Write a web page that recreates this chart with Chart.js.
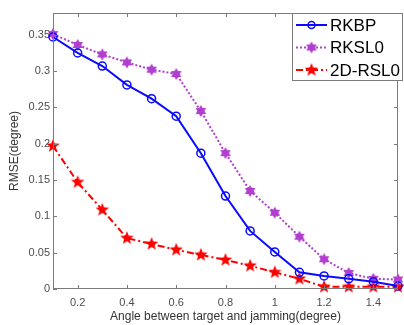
<!DOCTYPE html>
<html>
<head>
<meta charset="utf-8">
<script src="https://cdn.jsdelivr.net/npm/chart.js@4.4.1/dist/chart.umd.min.js"></script>
<style>
  body { margin: 0; background: #fff; }
  #wrap { width: 404px; height: 325px; }
</style>
</head>
<body>
<div id="wrap"><canvas id="rmseChart" width="404" height="325"></canvas></div>
<script>
// angle between target and jamming (degree)
const angles = [0.1, 0.2, 0.3, 0.4, 0.5, 0.6, 0.7, 0.8, 0.9, 1.0, 1.1, 1.2, 1.3, 1.4, 1.5];
// RMSE (degree) for each method
const rkbp  = [0.347, 0.325, 0.307, 0.281, 0.262, 0.238, 0.187, 0.128, 0.080, 0.051, 0.023, 0.018, 0.014, 0.010, 0.004];
const rksl0 = [0.351, 0.336, 0.323, 0.312, 0.302, 0.296, 0.245, 0.187, 0.135, 0.105, 0.072, 0.041, 0.022, 0.014, 0.013];
const rsl0  = [0.197, 0.147, 0.109, 0.070, 0.062, 0.054, 0.047, 0.040, 0.032, 0.023, 0.014, 0.003, 0.003, 0.003, 0.003];
const seriesNames = ['RKBP', 'RKSL0', '2D-RSL0'];
const xTicks = [0.2, 0.4, 0.6, 0.8, 1, 1.2, 1.4];
const yTicks = [0, 0.05, 0.1, 0.15, 0.2, 0.25, 0.3, 0.35];

// filled star marker drawn on a small canvas
function starMarker(nPoints, outerR, innerR, color) {
    const size = Math.ceil(outerR * 2 + 2);
    const c = document.createElement('canvas');
    c.width = size; c.height = size;
    const g = c.getContext('2d');
    g.translate(size / 2, size / 2);
    g.beginPath();
    for (let i = 0; i < nPoints * 2; i++) {
        const r = i % 2 === 0 ? outerR : innerR;
        const a = -Math.PI / 2 + i * Math.PI / nPoints;
        const px = r * Math.cos(a), py = r * Math.sin(a);
        if (i === 0) g.moveTo(px, py); else g.lineTo(px, py);
    }
    g.closePath();
    g.fillStyle = color;
    g.fill();
    return c;
}

const hexStar = starMarker(6, 6, 3.6, '#b03fd0');
const pentStar = starMarker(5, 7, 3, '#ff0000');

const toPoints = arr => arr.map((v, i) => ({ x: angles[i], y: v }));

// box around the plot with inward ticks, like matlab
const framePlugin = {
    id: 'frame',
    afterDraw(chart) {
        const { ctx, chartArea: a, scales } = chart;
        ctx.save();
        ctx.strokeStyle = '#7a7a7a';
        ctx.lineWidth = 1;
        ctx.strokeRect(a.left + 0.5, a.top + 0.5, a.right - a.left - 1, a.bottom - a.top - 1);
        ctx.beginPath();
        xTicks.forEach(v => {
            const x = Math.round(scales.x.getPixelForValue(v)) + 0.5;
            ctx.moveTo(x, a.bottom); ctx.lineTo(x, a.bottom - 4);
            ctx.moveTo(x, a.top); ctx.lineTo(x, a.top + 4);
        });
        yTicks.forEach(v => {
            const y = Math.round(scales.y.getPixelForValue(v)) + 0.5;
            ctx.moveTo(a.left, y); ctx.lineTo(a.left + 4, y);
            ctx.moveTo(a.right, y); ctx.lineTo(a.right - 4, y);
        });
        ctx.stroke();

        // legend box, top right
        const lx = 292, ly = 13, lw = 111, lh = 68;
        ctx.fillStyle = '#fff';
        ctx.fillRect(lx, ly, lw, lh);
        ctx.strokeRect(lx + 0.5, ly + 0.5, lw - 1, lh - 1);
        ctx.font = '17px "Liberation Sans", Arial, sans-serif';
        ctx.textBaseline = 'middle';
        chart.data.datasets.forEach((ds, i) => {
            const y = ly + 12 + i * 22.5;
            ctx.strokeStyle = ds.borderColor;
            ctx.lineWidth = ds.borderWidth;
            ctx.setLineDash(ds.borderDash || []);
            ctx.beginPath();
            ctx.moveTo(296, y); ctx.lineTo(327, y);
            ctx.stroke();
            ctx.setLineDash([]);
            if (ds.pointStyle === 'circle') {
                ctx.lineWidth = 1.5;
                ctx.beginPath();
                ctx.arc(311.5, y, 3.5, 0, Math.PI * 2);
                ctx.stroke();
            } else {
                const img = ds.pointStyle;
                ctx.drawImage(img, 311.5 - img.width / 2, y - img.height / 2);
            }
            ctx.fillStyle = '#000';
            ctx.fillText(ds.label, 330, y + 1);
        });
        ctx.restore();
    }
};

const ctx = document.getElementById('rmseChart').getContext('2d');
const chart = new Chart(ctx, {
    type: 'line',
    data: {
        datasets: [{
            label: seriesNames[0],
            data: toPoints(rkbp),
            borderColor: '#0a0aff',
            borderWidth: 2,
            pointStyle: 'circle',
            pointRadius: 4,
            pointBorderWidth: 1.5,
            pointBackgroundColor: 'rgba(0,0,0,0)',
            pointBorderColor: '#0a0aff',
            clip: false
        }, {
            label: seriesNames[1],
            data: toPoints(rksl0),
            borderColor: '#b03fd0',
            borderWidth: 2,
            borderDash: [2, 2],
            pointStyle: hexStar,
            clip: false
        }, {
            label: seriesNames[2],
            data: toPoints(rsl0),
            borderColor: '#ff0000',
            borderWidth: 2,
            borderDash: [7, 3, 2, 3],
            pointStyle: pentStar,
            clip: false
        }]
    },
    options: {
        responsive: false,
        animation: false,
        layout: { padding: { top: 13, right: 1, left: 0, bottom: 0 } },
        plugins: {
            legend: { display: false },
            tooltip: { enabled: false }
        },
        scales: {
            x: {
                type: 'linear',
                min: 0.1,
                max: 1.5,
                grid: { display: false, drawTicks: false },
                border: { display: false },
                afterBuildTicks: s => { s.ticks = xTicks.map(v => ({ value: v })); },
                afterFit: s => { s.height = 36; },
                ticks: {
                    padding: 7,
                    maxRotation: 0,
                    color: '#4d4d4d',
                    font: { size: 11, family: '"Liberation Sans", Arial, sans-serif' },
                    callback: v => String(+v.toFixed(2))
                },
                title: {
                    display: true,
                    text: 'Angle between target and jamming(degree)',
                    color: '#333',
                    padding: { top: 1, bottom: 1 },
                    font: { size: 12, family: '"Liberation Sans", Arial, sans-serif' }
                }
            },
            y: {
                min: 0,
                max: 0.38,
                grid: { display: false, drawTicks: false },
                border: { display: false },
                afterBuildTicks: s => { s.ticks = yTicks.map(v => ({ value: v })); },
                afterFit: s => { s.width = 53; },
                ticks: {
                    padding: 3,
                    color: '#4d4d4d',
                    font: { size: 11, family: '"Liberation Sans", Arial, sans-serif' },
                    callback: v => String(+v.toFixed(2))
                },
                title: {
                    display: true,
                    text: 'RMSE(degree)',
                    color: '#333',
                    padding: { top: 7, bottom: 0 },
                    font: { size: 12, family: '"Liberation Sans", Arial, sans-serif' }
                }
            }
        }
    },
    plugins: [framePlugin]
});
</script>
</body>
</html>
